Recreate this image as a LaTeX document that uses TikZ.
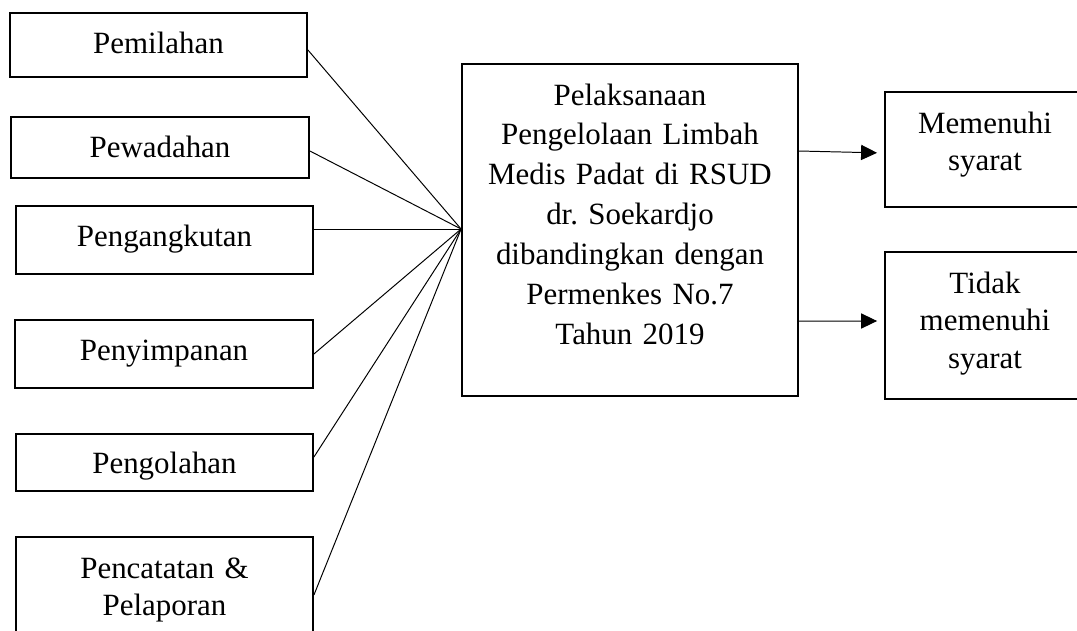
\documentclass[tikz,border=0pt]{standalone}
\usepackage{fontspec}
\setmainfont{Liberation Serif}
\usetikzlibrary{arrows.meta}
\tikzset{
  boxnode/.style={draw, line width=1.3pt, inner sep=0pt, minimum width=#1},
  txt/.style={font=\fontsize{22}{27}\selectfont\frenchspacing, inner sep=0pt, align=center, anchor=base, text width=8cm},
  ctxt/.style={txt, font=\fontsize{22}{28.4}\selectfont\frenchspacing},
  conn/.style={line width=0.7pt},
  arr/.style={line width=0.7pt, shorten >=0.175cm, -{Triangle[length=0.4cm,width=0.38cm]}}
}
\begin{document}
\begin{tikzpicture}
\useasboundingbox (0,0) rectangle (26.925,-15.75);
\clip (0,0) rectangle (26.925,-15.75);
% left boxes
\node[boxnode=7.425cm, minimum height=1.6cm] (b1) at (3.9625,-1.125) {};
\node[boxnode=7.45cm, minimum height=1.525cm] (b2) at (4.0,-3.6875) {};
\node[boxnode=7.425cm, minimum height=1.7cm] (b3) at (4.1125,-6.0) {};
\node[boxnode=7.45cm, minimum height=1.7cm] (b4) at (4.1,-8.85) {};
\node[boxnode=7.425cm, minimum height=1.425cm] (b5) at (4.1125,-11.5625) {};
\node[boxnode=7.425cm, minimum height=3.075cm] (b6) at (4.1125,-14.9625) {};
% centre box
\node[boxnode=8.4cm, minimum height=8.3cm] (c) at (15.75,-5.75) {};
% right boxes
\node[boxnode=5.625cm, minimum height=2.875cm] (r1) at (24.9375,-3.7375) {};
\node[boxnode=5.625cm, minimum height=3.675cm] (r2) at (24.9375,-8.1375) {};
% texts
\node[txt] (t1) at (3.9625,-1.325) {Pemilahan};
\node[txt] (t2) at (4.0,-3.925) {Pewadahan};
\node[txt] (t3) at (4.1125,-6.15) {Pengangkutan};
\node[txt] (t4) at (4.1,-9.0) {Penyimpanan};
\node[txt] (t5) at (4.1125,-11.825) {Pengolahan};
\node[txt] (t6) at (4.1125,-14.45) {Pencatatan \&\\Pelaporan};
\node[ctxt] (tc) at (15.75,-2.625) {Pelaksanaan\\Pengelolaan Limbah\\Medis Padat di RSUD\\dr. Soekardjo\\dibandingkan dengan\\Permenkes No.7\\Tahun 2019};
\node[txt] (tr1) at (24.625,-3.325) {Memenuhi\\syarat};
\node[txt] (tr2) at (24.625,-7.325) {Tidak\\memenuhi\\syarat};
% connectors
\coordinate (conv) at ([yshift=0.025cm]c.west);
\draw[conn] ([yshift=-0.125cm]b1.east) -- (conv);
\draw[conn] ([yshift=-0.0875cm]b2.east) -- (conv);
\draw[conn] ([yshift=0.275cm]b3.east) -- (conv);
\draw[conn] (b4.east) -- (conv);
\draw[conn] ([yshift=0.1375cm]b5.east) -- (conv);
\draw[conn] ([yshift=0.0875cm]b6.east) -- (conv);
\draw[arr] ([yshift=1.975cm]c.east) -- ([yshift=-0.0875cm]r1.west);
\draw[arr] ([yshift=-2.275cm]c.east) -- ([yshift=0.1125cm]r2.west);
\end{tikzpicture}
\end{document}
